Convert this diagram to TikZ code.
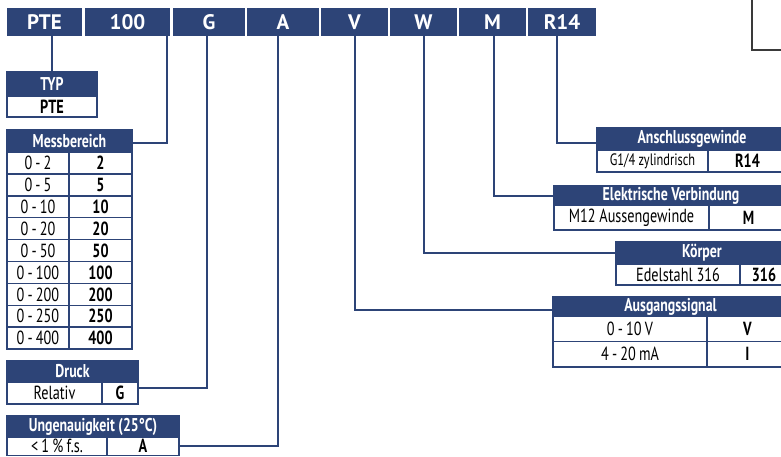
\documentclass[tikz,border=0pt]{standalone}
\usepackage{fontspec}
\setmainfont[FakeStretch=0.75]{PT Sans}
\newfontfamily\codefont{PT Sans}
\usetikzlibrary{positioning,calc}
\definecolor{codeblue}{HTML}{2D4477}
\definecolor{framegray}{HTML}{3A3A3A}

\newcommand{\hdrsize}{\fontsize{18.5}{19}\selectfont\bfseries}
\newcommand{\cellsize}{\fontsize{19}{20}\selectfont}

\begin{document}
\begin{tikzpicture}[x=1pt,y=-1pt,
  codebox/.style={fill=codeblue,text=white,inner sep=0pt,outer sep=0pt,
                  anchor=north west,minimum height=28pt,
                  font=\codefont\fontsize{21}{21}\selectfont\bfseries},
  hdr/.style={fill=codeblue,draw=codeblue,line width=1.5pt,text=white,
              inner sep=0pt,outer sep=0pt,anchor=north west,font=\hdrsize},
  cell/.style={fill=white,draw=codeblue,line width=1.5pt,inner sep=0pt,
               outer sep=0pt,anchor=north west,font=\cellsize},
  val/.style={cell,font=\cellsize\bfseries},
  conn/.style={codeblue,line width=2pt}]

  \useasboundingbox (0,0) rectangle (781,457);
  \clip (0,0) rectangle (781,457);

  % frame corner, top right
  \draw[framegray,line width=1.5pt] (752,0) -- (752,50) -- (785,50);

  % code bar
  \foreach \cx/\cw/\ct/\cn in {7/75/PTE/cPTE,85/85/100/c100,173/72/G/cG,
      247/72/A/cA,321/67/V/cV,390/67/W/cW,459/67/M/cM,528/68/R14/cR}
    \node[codebox,minimum width=\cw pt] (\cn) at (\cx,8) {\ct};

  % Typ
  \node[hdr,minimum width=90pt,minimum height=24pt] (typhdr) at (7,72) {TYP};
  \node[val,minimum width=90pt,minimum height=21pt] (typv) at (7,96) {PTE};

  % Messbereich
  \node[hdr,minimum width=125pt,minimum height=22pt] (messhdr) at (7,130) {Messbereich};
  \foreach \rl/\rv [count=\i from 0] in {0\,-\,2/2,0\,-\,5/5,0\,-\,10/10,
      0\,-\,20/20,0\,-\,50/50,0\,-\,100/100,0\,-\,200/200,0\,-\,250/250,0\,-\,400/400}
  {
    \node[cell,minimum width=62pt,minimum height=21.9pt] (mr\i) at (7,152+21.9*\i) {\rl};
    \node[val,minimum width=63pt,minimum height=21.9pt] (mv\i) at (69,152+21.9*\i) {\rv};
  }

  % Druck
  \node[hdr,minimum width=131pt,minimum height=21pt] (druckhdr) at (7,361) {Druck};
  \node[cell,minimum width=95pt,minimum height=22pt] (druckl) at (7,382) {Relativ};
  \node[val,minimum width=36pt,minimum height=22pt] (druckv) at (102,382) {G};

  % Ungenauigkeit
  \node[hdr,minimum width=172pt,minimum height=21pt] (unghdr) at (7,416) {Ungenauigkeit (25°C)};
  \node[cell,minimum width=100pt,minimum height=18.5pt] (ungl) at (7,437) {<\,1\,\%\,f.s.};
  \node[val,minimum width=72pt,minimum height=18.5pt] (ungv) at (107,437) {A};

  % Anschlussgewinde
  \node[hdr,minimum width=190pt,minimum height=22pt] (anshdr) at (597,128) {Anschlussgewinde};
  \node[cell,minimum width=111pt,minimum height=22pt,font=\fontsize{16.5}{17}\selectfont]
    (ansl) at (597,150) {G1/4 zylindrisch};
  \node[val,minimum width=79pt,minimum height=22pt] (ansv) at (708,150) {R14};

  % Elektrische Verbindung
  \node[hdr,minimum width=234pt,minimum height=19pt] (elhdr) at (554,186) {Elektrische Verbindung};
  \node[cell,minimum width=155pt,minimum height=25pt] (ell) at (554,205) {M12 Aussengewinde};
  \node[val,minimum width=79pt,minimum height=25pt] (elv) at (709,205) {M};

  % Koerper
  \node[hdr,minimum width=172pt,minimum height=22pt] (khdr) at (616,242) {Körper};
  \node[cell,minimum width=124pt,minimum height=21pt] (kl) at (616,264) {Edelstahl 316};
  \node[val,minimum width=48pt,minimum height=21pt] (kv) at (740,264) {316};

  % Ausgangssignal
  \node[hdr,minimum width=235pt,minimum height=19pt] (aushdr) at (553,297) {Ausgangssignal};
  \node[cell,minimum width=154pt,minimum height=25.5pt] (ausl1) at (553,316) {0\,-\,10\,V};
  \node[val,minimum width=81pt,minimum height=25.5pt] (ausv1) at (707,316) {V};
  \node[cell,minimum width=154pt,minimum height=25.5pt] (ausl2) at (553,341.5) {4\,-\,20\,mA};
  \node[val,minimum width=81pt,minimum height=25.5pt] (ausv2) at (707,341.5) {I};

  % connectors
  \draw[conn] (typhdr.north |- cPTE.south) -- (typhdr.north);
  \draw[conn] ($(c100.south east)+(-3,0)$) |- ($(messhdr.east)+(0,2)$);
  \draw[conn] ($(cG.south)+(-2,0)$) |- ($(druckv.east)+(0,-5)$);
  \draw[conn] ($(cA.south)+(-5,0)$) |- (ungv.east);
  \draw[conn] (cV.south) |- ($(aushdr.west)+(0,3)$);
  \draw[conn] (cW.south) |- (khdr.west);
  \draw[conn] ($(cM.south)+(1.5,0)$) |- (elhdr.west);
  \draw[conn] ($(cR.south)+(-5,0)$) |- ($(anshdr.west)+(0,4)$);
\end{tikzpicture}
\end{document}
